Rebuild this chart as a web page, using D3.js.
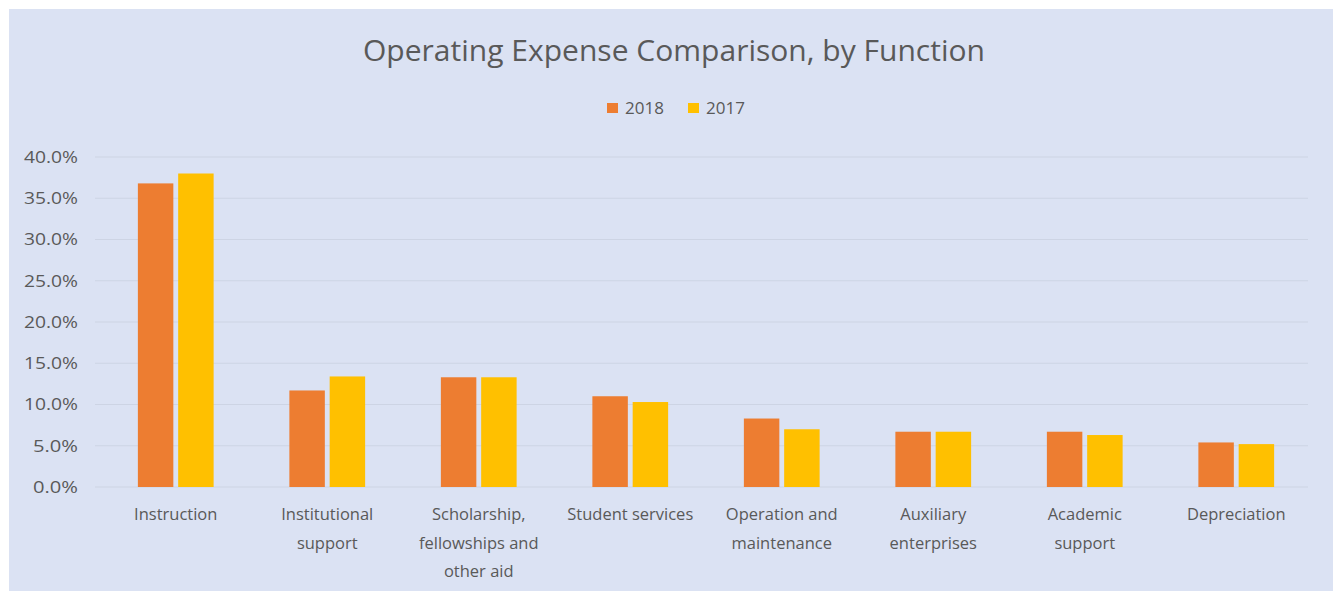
<!DOCTYPE html>
<html>
<head>
<meta charset="utf-8">
<script src="https://cdn.jsdelivr.net/npm/d3@7"></script>
<style>
  html, body { margin: 0; padding: 0; background: #ffffff; }
  svg { display: block; }
  text { font-family: "Open Sans", "Noto Sans", sans-serif; fill: #595959; }
</style>
</head>
<body>
<svg id="chart" width="1338" height="595"></svg>
<script>
// ---- data ----
const categories = ["Instruction", "Institutional support", "Scholarship, fellowships and other aid",
  "Student services", "Operation and maintenance", "Auxiliary enterprises", "Academic support", "Depreciation"];
const categoryLines = [
  ["Instruction"],
  ["Institutional", "support"],
  ["Scholarship,", "fellowships and", "other aid"],
  ["Student services"],
  ["Operation and", "maintenance"],
  ["Auxiliary", "enterprises"],
  ["Academic", "support"],
  ["Depreciation"]
];
const seriesNames = ["2018", "2017"];
const values2018 = [36.8, 11.7, 13.3, 11.0, 8.3, 6.7, 6.7, 5.4];
const values2017 = [38.0, 13.4, 13.3, 10.3, 7.0, 6.7, 6.3, 5.2];
const yTicks = [0, 5, 10, 15, 20, 25, 30, 35, 40];
const title = "Operating Expense Comparison, by Function";
const colors = ["#ed7d31", "#ffc000"];

// ---- layout ----
const svg = d3.select("#chart");
const plot = { left: 100, right: 1312, top: 157, bottom: 487 };

svg.append("rect").attr("x", 9).attr("y", 9).attr("width", 1324).attr("height", 582)
  .attr("fill", "#dbe2f3");

const x = d3.scaleBand().domain(categories).range([plot.left, plot.right]).paddingInner(0).paddingOuter(0);
const y = d3.scaleLinear().domain([0, 40]).range([plot.bottom, plot.top]);
const inner = d3.scaleBand().domain(seriesNames).range([0, x.bandwidth() * 0.5]).paddingInner(0.12);
const groupOffset = x.bandwidth() * 0.25;

// gridlines
svg.append("g").selectAll("line").data(yTicks).join("line")
  .attr("x1", plot.left - 5).attr("x2", plot.right - 4)
  .attr("y1", d => y(d)).attr("y2", d => y(d))
  .attr("stroke", "#cdd4e4").attr("stroke-width", 1.2);

// y axis labels
const yAxis = d3.axisLeft(y).tickValues(yTicks).tickSize(0).tickPadding(0)
  .tickFormat(d => d3.format(".1f")(d) + "%");
const gy = svg.append("g").attr("transform", `translate(78,0)`).call(yAxis);
gy.select(".domain").remove();
gy.selectAll("text").attr("font-size", 17).attr("fill", "#595959")
  .attr("textLength", 54).attr("lengthAdjust", "spacingAndGlyphs")
  .style("font-family", '"Open Sans", sans-serif');
gy.selectAll("text").filter(d => d < 10).attr("textLength", 45);

// bars
const rows = categories.map((c, i) => ({ c, vals: [values2018[i], values2017[i]] }));
const groups = svg.append("g").selectAll("g").data(rows).join("g")
  .attr("transform", d => `translate(${x(d.c) + groupOffset},0)`);
groups.selectAll("rect").data(d => d.vals.map((v, k) => ({ v, s: seriesNames[k], k })))
  .join("rect")
  .attr("x", d => inner(d.s))
  .attr("width", inner.bandwidth())
  .attr("y", d => y(d.v))
  .attr("height", d => y(0) - y(d.v))
  .attr("fill", d => colors[d.k]);

// x axis labels
const xl = svg.append("g").selectAll("text").data(categories).join("text")
  .attr("x", (d) => x(d) + x.bandwidth() / 2)
  .attr("y", 520)
  .attr("text-anchor", "middle")
  .attr("font-size", 16.5);
xl.each(function(d, i) {
  const t = d3.select(this);
  categoryLines[i].forEach((line, j) => {
    t.append("tspan").attr("x", x(d) + x.bandwidth() / 2).attr("dy", j === 0 ? 0 : 28.5).text(line);
  });
});

// title
svg.append("text").attr("x", 674).attr("y", 61).attr("text-anchor", "middle")
  .attr("font-size", 29).attr("fill", "#595959")
  .attr("textLength", 622).attr("lengthAdjust", "spacingAndGlyphs")
  .text(title);

// legend
const legend = svg.append("g");
const legendItems = [{ n: seriesNames[0], x: 607 }, { n: seriesNames[1], x: 688 }];
legendItems.forEach((it, k) => {
  legend.append("rect").attr("x", it.x).attr("y", 103).attr("width", 11).attr("height", 10).attr("fill", colors[k]);
  legend.append("text").attr("x", it.x + 18).attr("y", 114).attr("font-size", 17).text(it.n);
});
</script>
</body>
</html>
